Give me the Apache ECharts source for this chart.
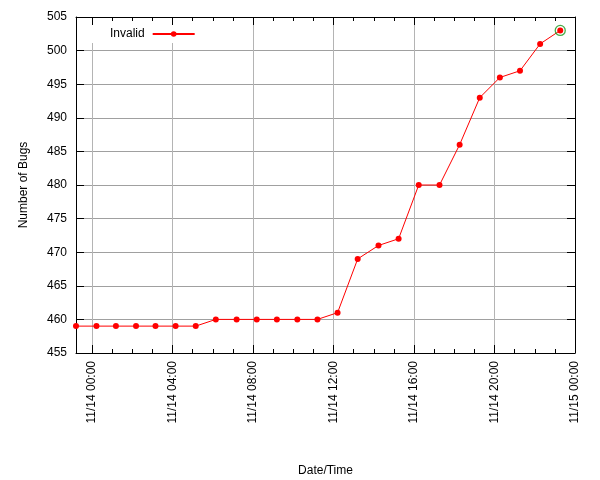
<!DOCTYPE html>
<html>
<head>
<meta charset="utf-8">
<script src="https://cdn.jsdelivr.net/npm/echarts@6/dist/echarts.min.js"></script>
<style>html,body{margin:0;padding:0;background:#fff}#c{width:600px;height:480px}</style>
</head>
<body>
<div id="c"></div>
<script>
// Data
var times = ['11/13 23:12','11/14 00:13','11/14 01:11','11/14 02:11','11/14 03:09','11/14 04:09','11/14 05:09',
             '11/14 06:09','11/14 07:11','11/14 08:11','11/14 09:11','11/14 10:12','11/14 11:12','11/14 12:12',
             '11/14 13:12','11/14 14:14','11/14 15:14','11/14 16:14','11/14 17:16','11/14 18:16','11/14 19:16',
             '11/14 20:16','11/14 21:16','11/14 22:16','11/14 23:16'];
var invalid = [459,459,459,459,459,459,459,460,460,460,460,460,460,461,469,471,472,480,480,486,493,496,497,501,503];
var seriesName = 'Invalid';
var majorTickHours = [0,4,8,12,16,20,24];
var majorTickLabels = ['11/14 00:00','11/14 04:00','11/14 08:00','11/14 12:00','11/14 16:00','11/14 20:00','11/15 00:00'];
var minorTickHours = [0,1,2,3,4,5,6,7,8,9,10,11,12,13,14,15,16,17,18,19,20,21,22,23,24];
var yMin = 455, yMax = 505, yStep = 5;

// hours relative to 11/14 00:00
function toHours(s){
  var p = s.split(' '), d = p[0].split('/'), t = p[1].split(':');
  return (parseInt(d[1],10)-14)*24 + parseInt(t[0],10) + parseInt(t[1],10)/60;
}
var xs = times.map(toHours);
var pts = xs.map(function(x,i){return [x, invalid[i]];});
var last = pts[pts.length-1];
var font = 'Liberation Sans, Arial, sans-serif';

function xAx(pos, ticks, len, line, extra){
  var o = {
    type:'value', position:pos, min:xs[0], max:24,
    axisLine:{show:line, onZero:false, lineStyle:{color:'#000', width:1}},
    axisTick:{show:true, inside:true, length:len, customValues:ticks, lineStyle:{color:'#000'}},
    axisLabel:{show:false},
    splitLine:{show:false}
  };
  for (var k in extra) o[k]=extra[k];
  return o;
}

var chart = echarts.init(document.getElementById('c'), null, {renderer:'canvas'});
chart.setOption({
  animation:false,
  backgroundColor:'#fff',
  textStyle:{fontFamily:font},
  grid:{left:76, right:25, top:17, bottom:127, containLabel:false, outerBoundsMode:'none'},
  legend:{
    data:[seriesName], left:88, top:25, align:'right', backgroundColor:'#fff',
    padding:[3,8,3,22], itemWidth:42, itemHeight:7,
    textStyle:{fontSize:12, color:'#000', fontFamily:font, padding:[0,3,0,0]}
  },
  xAxis:[
    xAx('bottom', majorTickHours, 8, true, {
      name:'Date/Time', nameLocation:'middle', nameGap:112,
      nameTextStyle:{fontSize:12, color:'#000', fontFamily:font},
      axisLabel:{show:true, customValues:majorTickHours, rotate:90, margin:8, fontSize:12, color:'#000', fontFamily:font,
        formatter:function(v){var i=majorTickHours.indexOf(Math.round(v)); return i>=0?majorTickLabels[i]:'';}},
      splitLine:{show:true, lineStyle:{color:'#b4b4b4', width:1}}
    }),
    xAx('bottom', minorTickHours, 4, false, {}),
    xAx('top', majorTickHours, 8, true, {}),
    xAx('top', minorTickHours, 4, false, {})
  ],
  yAxis:[
    {type:'value', position:'left', min:yMin, max:yMax, interval:yStep,
     name:'Number of Bugs', nameLocation:'middle', nameGap:46,
     nameTextStyle:{fontSize:12, color:'#000', fontFamily:font},
     axisLine:{show:true, onZero:false, lineStyle:{color:'#000'}},
     axisTick:{show:true, inside:true, length:8, lineStyle:{color:'#000'}},
     axisLabel:{show:true, margin:9, fontSize:12, color:'#000', fontFamily:font},
     splitLine:{show:true, lineStyle:{color:'#a0a0a0', width:1}}},
    {type:'value', position:'right', min:yMin, max:yMax, interval:yStep,
     axisLine:{show:true, onZero:false, lineStyle:{color:'#000'}},
     axisTick:{show:true, inside:true, length:8, lineStyle:{color:'#000'}},
     axisLabel:{show:false}, splitLine:{show:false}}
  ],
  series:[
    {name:seriesName, type:'line', data:pts, xAxisIndex:0, yAxisIndex:0,
     symbol:'circle', symbolSize:6, showAllSymbol:true, z:5,
     lineStyle:{color:'#ff0000', width:1}, itemStyle:{color:'#ff0000'}},
    {name:'highlight', type:'scatter', data:[last], xAxisIndex:0, yAxisIndex:0,
     symbol:'circle', symbolSize:10, z:6,
     itemStyle:{color:'rgba(0,0,0,0)', borderColor:'#1a961a', borderWidth:1.3}}
  ]
});
</script>
</body>
</html>
